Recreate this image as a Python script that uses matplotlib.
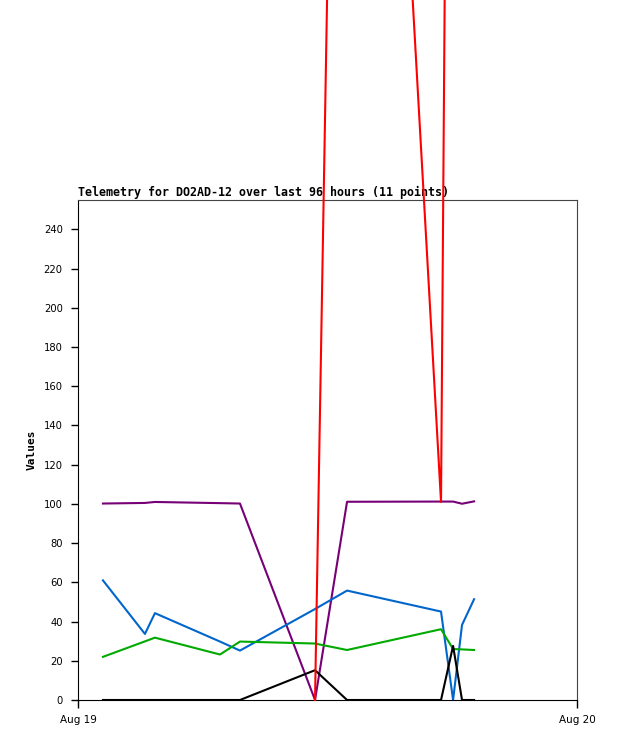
import numpy as np
import matplotlib
matplotlib.use("Agg")
import matplotlib.pyplot as plt

# hours after Aug 19 00:00 for the 11 samples
hours = [1.2, 3.22, 3.7, 6.83, 7.79, 11.4, 12.94, 17.46, 18.04, 18.47, 19.05]

red = [np.nan, np.nan, np.nan, np.nan, np.nan, 0, 950, 101, 950, 950, 950]
purple = [100.2, 100.5, 101, 100.4, 100.2, 0, 101.1, 101.2, 101.2, 100.1, 101.3]
blue = [61, 33.7, 44.3, 29.8, 25.2, 46.4, 55.8, 45.1, 0, 38.3, 51.4]
green = [22, 29.9, 31.8, 23.2, 29.8, 28.8, 25.5, 36.1, 26, 25.8, 25.5]
black = [0, 0, 0, 0, 0, 15.2, 0, 0, 27.6, 0, 0]

title = "Telemetry for DO2AD-12 over last 96 hours (11 points)"
xtick_pos = [0, 24]
xtick_labels = ["Aug 19", "Aug 20"]
yticks = list(range(0, 241, 20))

fig = plt.figure(figsize=(6.18, 7.41), dpi=100)
ax = fig.add_axes([78 / 618, 41 / 741, 499 / 618, 500 / 741])

lw = 1.5
ax.plot(hours, red, color="#ff0000", lw=lw, clip_on=False, zorder=5)
ax.plot(hours, purple, color="#770077", lw=lw)
ax.plot(hours, blue, color="#0066cc", lw=lw)
ax.plot(hours, green, color="#00aa00", lw=lw)
ax.plot(hours, black, color="#000000", lw=lw)

ax.set_xlim(0, 24)
ax.set_ylim(0, 255)
ax.set_xticks(xtick_pos)
ax.set_xticklabels(xtick_labels)
ax.set_yticks(yticks)
ax.tick_params(axis="y", length=5, width=1, pad=6, labelsize=7.2, colors="black")
ax.tick_params(axis="x", length=5.5, width=1, pad=5, labelsize=7.5)

for side in ("top", "right"):
    ax.spines[side].set_color("#444444")
for side in ("left", "bottom"):
    ax.spines[side].set_color("black")

ax.set_title(title, loc="left", fontfamily="DejaVu Sans Mono",
             fontweight="bold", fontsize=8.4, pad=3)
ax.set_ylabel("Values", fontfamily="DejaVu Sans Mono", fontweight="bold",
              fontsize=8, labelpad=5)

fig.savefig("out.png", dpi=100)
